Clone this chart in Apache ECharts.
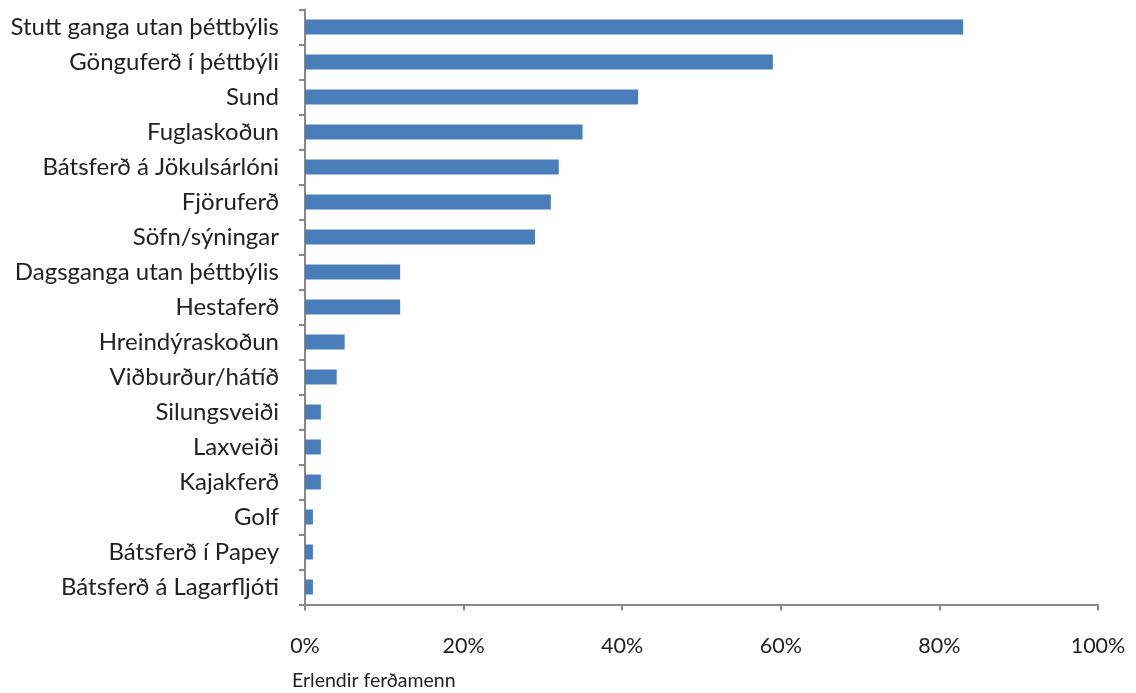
<!DOCTYPE html>
<html><head><meta charset="utf-8">
<script src="https://cdn.jsdelivr.net/npm/echarts@6/dist/echarts.min.js"></script>
<style>html,body{margin:0;padding:0;background:#fff}#c{width:1136px;height:693px}</style>
</head><body><div id="c"></div>
<script>
const categories = ["Stutt ganga utan þéttbýlis","Gönguferð í þéttbýli","Sund","Fuglaskoðun","Bátsferð á Jökulsárlóni","Fjöruferð","Söfn/sýningar","Dagsganga utan þéttbýlis","Hestaferð","Hreindýraskoðun","Viðburður/hátíð","Silungsveiði","Laxveiði","Kajakferð","Golf","Bátsferð í Papey","Bátsferð á Lagarfljóti"];
const values = [83,59,42,35,32,31,29,12,12,5,4,2,2,2,1,1,1];
const xTicks = [0,20,40,60,80,100];
const footnote = "Erlendir ferðamenn";
const chart = echarts.init(document.getElementById('c'));
const font = 'Lato, "Open Sans", sans-serif';
chart.setOption({
  animation:false,
  grid:{left:305,right:38,top:9.5,height:595,containLabel:false},
  xAxis:{type:'value',min:xTicks[0],max:xTicks[xTicks.length-1],interval:20,
    axisLine:{show:true,lineStyle:{color:'#888',width:2}},
    axisTick:{show:true,length:6,lineStyle:{color:'#888',width:2}},
    splitLine:{show:false},
    axisLabel:{formatter:'{value}%',color:'#222',fontSize:21.5,fontFamily:font,margin:31}},
  yAxis:{type:'category',data:categories,inverse:true,
    axisLine:{show:true,lineStyle:{color:'#888',width:2}},
    axisTick:{show:true,length:6,lineStyle:{color:'#888',width:2}},
    axisLabel:{color:'#222',fontSize:24,fontFamily:font,margin:26}},
  series:[{type:'bar',data:values,barWidth:15,itemStyle:{color:'#4a7ebb'}}],
  graphic:[{type:'text',left:292,top:671,style:{text:footnote,fontSize:19.5,fill:'#222',fontFamily:font}}]
});
</script></body></html>
